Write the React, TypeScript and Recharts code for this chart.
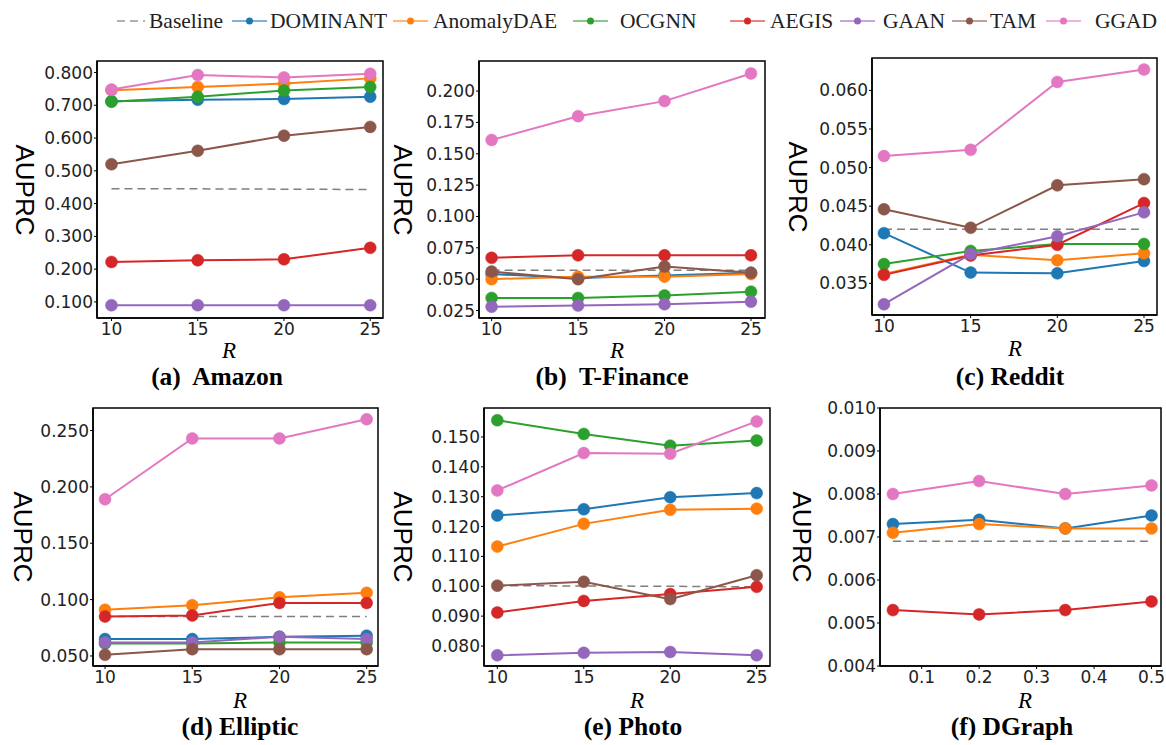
import React from 'react';
import { LineChart, Line, XAxis, YAxis, ReferenceArea } from 'recharts';

const R_VALUES = [10, 15, 20, 25];
const R_DGRAPH = [0.05, 0.2, 0.35, 0.5];

const METHODS = ['DOMINANT', 'AnomalyDAE', 'OCGNN', 'AEGIS', 'GAAN', 'TAM', 'GGAD'];
const COLORS: Record<string, string> = {
  Baseline: '#7f7f7f',
  DOMINANT: '#1f77b4',
  AnomalyDAE: '#ff7f0e',
  OCGNN: '#2ca02c',
  AEGIS: '#d62728',
  GAAN: '#9467bd',
  TAM: '#8c564b',
  GGAD: '#e377c2',
};

// AUPRC per method, one value per R
const amazon: Record<string, number[]> = {
  Baseline: [0.445, 0.445, 0.444, 0.443],
  DOMINANT: [0.712, 0.717, 0.719, 0.726],
  AnomalyDAE: [0.746, 0.756, 0.766, 0.782],
  OCGNN: [0.711, 0.726, 0.745, 0.756],
  AEGIS: [0.222, 0.227, 0.23, 0.265],
  GAAN: [0.09, 0.09, 0.09, 0.09],
  TAM: [0.52, 0.561, 0.607, 0.634],
  GGAD: [0.748, 0.792, 0.785, 0.796],
};

const tfinance: Record<string, number[]> = {
  Baseline: [0.057, 0.057, 0.057, 0.057],
  DOMINANT: [0.054, 0.051, 0.053, 0.055],
  AnomalyDAE: [0.05, 0.052, 0.052, 0.054],
  OCGNN: [0.035, 0.035, 0.037, 0.04],
  AEGIS: [0.067, 0.069, 0.069, 0.069],
  GAAN: [0.028, 0.029, 0.03, 0.032],
  TAM: [0.056, 0.05, 0.06, 0.055],
  GGAD: [0.161, 0.18, 0.192, 0.214],
};

const reddit: Record<string, number[]> = {
  Baseline: [0.042, 0.042, 0.042, 0.042],
  DOMINANT: [0.0415, 0.0364, 0.0363, 0.0379],
  AnomalyDAE: [0.0362, 0.0387, 0.038, 0.0389],
  OCGNN: [0.0375, 0.0392, 0.0401, 0.0401],
  AEGIS: [0.0361, 0.0386, 0.04, 0.0454],
  GAAN: [0.0323, 0.0388, 0.0411, 0.0442],
  TAM: [0.0446, 0.0422, 0.0477, 0.0485],
  GGAD: [0.0515, 0.0523, 0.0611, 0.0627],
};

const elliptic: Record<string, number[]> = {
  Baseline: [0.085, 0.085, 0.085, 0.085],
  DOMINANT: [0.065, 0.065, 0.067, 0.068],
  AnomalyDAE: [0.091, 0.095, 0.102, 0.106],
  OCGNN: [0.061, 0.061, 0.062, 0.062],
  AEGIS: [0.085, 0.086, 0.097, 0.097],
  GAAN: [0.062, 0.062, 0.067, 0.065],
  TAM: [0.051, 0.056, 0.056, 0.056],
  GGAD: [0.189, 0.243, 0.243, 0.26],
};

const photo: Record<string, number[]> = {
  Baseline: [0.1002, 0.1001, 0.1, 0.0998],
  DOMINANT: [0.1237, 0.1258, 0.1298, 0.1312],
  AnomalyDAE: [0.1133, 0.1209, 0.1256, 0.126],
  OCGNN: [0.1556, 0.151, 0.1471, 0.1488],
  AEGIS: [0.0912, 0.0951, 0.0974, 0.0998],
  GAAN: [0.0769, 0.0777, 0.078, 0.0769],
  TAM: [0.1002, 0.1015, 0.0957, 0.1037],
  GGAD: [0.1321, 0.1446, 0.1444, 0.1552],
};

const dgraph: Record<string, number[]> = {
  Baseline: [0.0069, 0.0069, 0.0069, 0.0069],
  DOMINANT: [0.0073, 0.0074, 0.0072, 0.0075],
  AnomalyDAE: [0.0071, 0.0073, 0.0072, 0.0072],
  AEGIS: [0.0053, 0.0052, 0.0053, 0.0055],
  GGAD: [0.008, 0.0083, 0.008, 0.0082],
};

const TICK_FONT = { fontFamily: 'DejaVu Sans', fontSize: 17, fill: '#222' };
const Y_W = 72;
const M_TOP = 12;
const M_RIGHT = 12;
const X_H = 30;

type Box = { x: number; y: number; w: number; h: number };

interface PanelProps {
  values: Record<string, number[]>;
  rs: number[];
  box: Box;
  xDomain: [number, number];
  yDomain: [number, number];
  xTicks: number[];
  yTicks: number[];
  xFmt: (v: number) => string;
  yLabelX: number;
  rX: number;
  rY: number;
  title: string;
  titleX: number;
  titleY: number;
}

const Panel = (p: PanelProps) => {
  const data = p.rs.map((r, i) => {
    const row: any = { r };
    Object.keys(p.values).forEach((k) => (row[k] = p.values[k][i]));
    return row;
  });
  const names = ['Baseline', ...METHODS.filter((m) => p.values[m])];
  const width = Y_W + p.box.w + M_RIGHT;
  const height = M_TOP + p.box.h + X_H;
  return (
    <>
      <div style={{ position: 'absolute', left: p.box.x - Y_W, top: p.box.y - M_TOP }}>
        <LineChart width={width} height={height} data={data} margin={{ top: M_TOP, right: M_RIGHT, left: 0, bottom: 0 }}>
          <XAxis
            type="number"
            dataKey="r"
            domain={p.xDomain}
            ticks={p.xTicks}
            tickFormatter={p.xFmt}
            height={X_H}
            tick={TICK_FONT}
            tickSize={3}
            tickMargin={2}
            axisLine={{ stroke: '#000', strokeWidth: 1.5 }}
            tickLine={{ stroke: '#000' }}
          />
          <YAxis
            type="number"
            domain={p.yDomain}
            ticks={p.yTicks}
            tickFormatter={(v: number) => v.toFixed(3)}
            width={Y_W}
            tick={TICK_FONT}
            tickSize={3}
            tickMargin={1}
            axisLine={{ stroke: '#000', strokeWidth: 1.5 }}
            tickLine={{ stroke: '#000' }}
          />
          {/* frame around the plot area */}
          <ReferenceArea
            x1={p.xDomain[0]}
            x2={p.xDomain[1]}
            y1={p.yDomain[0]}
            y2={p.yDomain[1]}
            fill="none"
            fillOpacity={0}
            stroke="#000"
            strokeWidth={1.5}
            ifOverflow="visible"
          />
          {names.map((n) =>
            n === 'Baseline' ? (
              <Line key={n} type="linear" dataKey={n} stroke={COLORS[n]} strokeWidth={1.5} strokeDasharray="8 5" dot={false} isAnimationActive={false} />
            ) : (
              <Line
                key={n}
                type="linear"
                dataKey={n}
                stroke={COLORS[n]}
                strokeWidth={2}
                dot={{ r: 6, fill: COLORS[n], stroke: COLORS[n], strokeWidth: 0.5 }}
                isAnimationActive={false}
              />
            )
          )}
        </LineChart>
      </div>
      <div
        style={{
          position: 'absolute',
          left: p.yLabelX,
          top: p.box.y + p.box.h / 2,
          transform: 'translate(-50%, -50%) rotate(90deg)',
          fontFamily: 'Liberation Sans',
          fontSize: 26,
          whiteSpace: 'nowrap',
          lineHeight: 1,
        }}
      >
        AUPRC
      </div>
      <div style={{ position: 'absolute', left: p.rX, top: p.rY, transform: 'translate(-50%, -50%)', fontFamily: 'Liberation Serif', fontStyle: 'italic', fontSize: 23, lineHeight: 1 }}>
        R
      </div>
      <div style={{ position: 'absolute', left: p.titleX, top: p.titleY, transform: 'translate(-50%, -50%)', fontFamily: 'Liberation Serif', fontWeight: 'bold', fontSize: 25.5, whiteSpace: 'pre', lineHeight: 1 }}>
        {p.title}
      </div>
    </>
  );
};

const LEGEND_ITEMS = [
  { name: 'Baseline', lineX: 117, textX: 149 },
  { name: 'DOMINANT', lineX: 232, textX: 270 },
  { name: 'AnomalyDAE', lineX: 393, textX: 433 },
  { name: 'OCGNN', lineX: 573, textX: 620 },
  { name: 'AEGIS', lineX: 730, textX: 770 },
  { name: 'GAAN', lineX: 840, textX: 883 },
  { name: 'TAM', lineX: 952, textX: 990 },
  { name: 'GGAD', lineX: 1046, textX: 1095 },
];

const Legend = () => (
  <>
    {LEGEND_ITEMS.map((it) => (
      <React.Fragment key={it.name}>
        <svg style={{ position: 'absolute', left: it.lineX, top: 13 }} width={36} height={16}>
          {it.name === 'Baseline' ? (
            <line x1={0} y1={8} x2={28} y2={8} stroke={COLORS.Baseline} strokeWidth={1.5} strokeDasharray="8 5" opacity={0.8} />
          ) : (
            <>
              <line x1={0} y1={8} x2={35} y2={8} stroke={COLORS[it.name]} strokeWidth={1.5} opacity={0.75} />
              <circle cx={17.5} cy={8} r={3.5} fill={COLORS[it.name]} />
            </>
          )}
        </svg>
        <div style={{ position: 'absolute', left: it.textX, top: 8, fontFamily: 'Liberation Serif', fontSize: 21.5, lineHeight: '26px', color: '#222', whiteSpace: 'nowrap' }}>
          {it.name}
        </div>
      </React.Fragment>
    ))}
  </>
);

const f3 = (v: number) => String(v);
const f1 = (v: number) => v.toFixed(1);

export default function App() {
  return (
    <div style={{ position: 'absolute', left: 0, top: 0, width: 1166, height: 745, background: '#fff', overflow: 'hidden' }}>
      <Legend />
      <Panel
        values={amazon}
        rs={R_VALUES}
        box={{ x: 97, y: 61, w: 286, h: 257 }}
        xDomain={[9.16, 25.74]}
        yDomain={[0.051, 0.835]}
        xTicks={R_VALUES}
        yTicks={[0.1, 0.2, 0.3, 0.4, 0.5, 0.6, 0.7, 0.8]}
        xFmt={f3}
        yLabelX={25}
        rX={229}
        rY={350}
        title="(a)  Amazon"
        titleX={217}
        titleY={377}
      />
      <Panel
        values={tfinance}
        rs={R_VALUES}
        box={{ x: 479, y: 61, w: 286, h: 257 }}
        xDomain={[9.27, 25.81]}
        yDomain={[0.019, 0.224]}
        xTicks={R_VALUES}
        yTicks={[0.025, 0.05, 0.075, 0.1, 0.125, 0.15, 0.175, 0.2]}
        xFmt={f3}
        yLabelX={403}
        rX={617}
        rY={350}
        title="(b)  T-Finance"
        titleX={612}
        titleY={377}
      />
      <Panel
        values={reddit}
        rs={R_VALUES}
        box={{ x: 872, y: 58, w: 285, h: 257 }}
        xDomain={[9.31, 25.75]}
        yDomain={[0.0309, 0.0642]}
        xTicks={R_VALUES}
        yTicks={[0.035, 0.04, 0.045, 0.05, 0.055, 0.06]}
        xFmt={f3}
        yLabelX={798}
        rX={1015}
        rY={348}
        title="(c) Reddit"
        titleX={1010}
        titleY={377}
      />
      <Panel
        values={elliptic}
        rs={R_VALUES}
        box={{ x: 93, y: 408, w: 285, h: 258 }}
        xDomain={[9.31, 25.65]}
        yDomain={[0.0411, 0.27]}
        xTicks={R_VALUES}
        yTicks={[0.05, 0.1, 0.15, 0.2, 0.25]}
        xFmt={f3}
        yLabelX={23}
        rX={240}
        rY={700}
        title="(d) Elliptic"
        titleX={240}
        titleY={727}
      />
      <Panel
        values={photo}
        rs={R_VALUES}
        box={{ x: 484, y: 408, w: 286, h: 258 }}
        xDomain={[9.23, 25.77]}
        yDomain={[0.0733, 0.1597]}
        xTicks={R_VALUES}
        yTicks={[0.08, 0.09, 0.1, 0.11, 0.12, 0.13, 0.14, 0.15]}
        xFmt={f3}
        yLabelX={403}
        rX={637}
        rY={700}
        title="(e) Photo"
        titleX={633}
        titleY={727}
      />
      <Panel
        values={dgraph}
        rs={R_DGRAPH}
        box={{ x: 880, y: 408, w: 281, h: 258 }}
        xDomain={[0.0275, 0.5165]}
        yDomain={[0.004, 0.01]}
        xTicks={[0.1, 0.2, 0.3, 0.4, 0.5]}
        yTicks={[0.004, 0.005, 0.006, 0.007, 0.008, 0.009, 0.01]}
        xFmt={f1}
        yLabelX={802}
        rX={1025}
        rY={700}
        title="(f) DGraph"
        titleX={1012}
        titleY={727}
      />
    </div>
  );
}
